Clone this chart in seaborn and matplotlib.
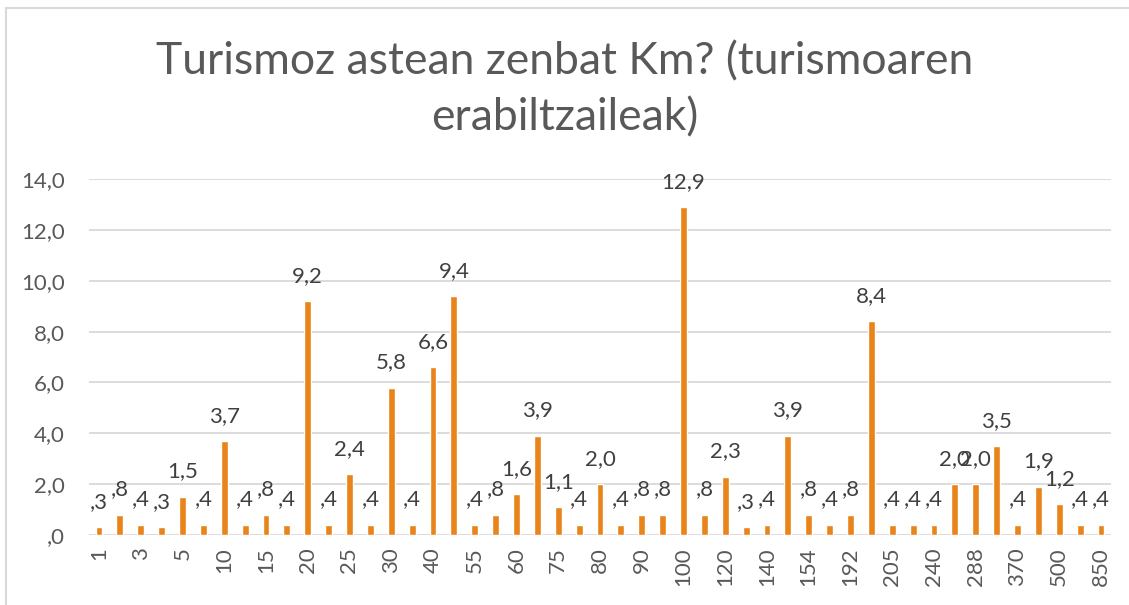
import matplotlib
matplotlib.use("Agg")
import matplotlib.pyplot as plt
from matplotlib.lines import Line2D
import pandas as pd
import seaborn as sns

# Km per week (categories; odd ones have hidden tick labels in the original)
km_categories = ["1", "2", "3", "4", "5", "7", "10", "12", "15", "17",
                 "20", "22", "25", "28", "30", "35", "40", "50", "55", "56",
                 "60", "70", "75", "78", "80", "85", "90", "95", "100", "110",
                 "120", "130", "140", "150", "154", "160", "192", "200", "205", "210",
                 "240", "250", "288", "300", "370", "400", "500", "600", "850"]
percent_values = [0.3, 0.8, 0.4, 0.3, 1.5, 0.4, 3.7, 0.4, 0.8, 0.4,
                  9.2, 0.4, 2.4, 0.4, 5.8, 0.4, 6.6, 9.4, 0.4, 0.8,
                  1.6, 3.9, 1.1, 0.4, 2.0, 0.4, 0.8, 0.8, 12.9, 0.8,
                  2.3, 0.3, 0.4, 3.9, 0.8, 0.4, 0.8, 8.4, 0.4, 0.4,
                  0.4, 2.0, 2.0, 3.5, 0.4, 1.9, 1.2, 0.4, 0.4]
y_ticks = [0, 2, 4, 6, 8, 10, 12, 14]

title = "Turismoz astean zenbat Km? (turismoaren\nerabiltzaileak)"


def excel_fmt(v):
    # Excel style "#,0" -> ",3" for values below one
    s = f"{v:.1f}".replace(".", ",")
    if s.startswith("0,"):
        s = s[1:]
    return s


sns.set_theme(style="white")
plt.rcParams["font.family"] = ["Lato", "DejaVu Sans"]

text_color = "#595959"
bar_color = "#E8841A"

df = pd.DataFrame({"km": km_categories, "pct": percent_values})

fig = plt.figure(figsize=(11.29, 6.05), dpi=100)
ax = fig.add_axes([0.0784, 0.1157, 0.906, 0.5883])

sns.barplot(data=df, x="km", y="pct", color=bar_color, saturation=1,
            width=0.33, ax=ax, zorder=3)

ax.set_ylim(0, 14)
ax.set_xlim(-0.5, len(km_categories) - 0.5)
ax.set_yticks(y_ticks)
ax.set_yticklabels([excel_fmt(t) for t in y_ticks], fontsize=16, color=text_color)
ax.grid(axis="y", color="#D9D9D9", linewidth=1.3, zorder=0)
ax.set_axisbelow(True)

ax.set_xticks(range(0, len(km_categories), 2))
ax.set_xticklabels(km_categories[::2], rotation=90, fontsize=16,
                   color=text_color, va="top")
ax.tick_params(axis="x", length=0, pad=9)
ax.tick_params(axis="y", length=0, pad=17)
ax.set_xlabel("")
ax.set_ylabel("")
for sp in ax.spines.values():
    sp.set_visible(False)

for cont in ax.containers:
    ax.bar_label(cont, labels=[excel_fmt(v) for v in cont.datavalues],
                 padding=11, fontsize=16, color="#404040")

fig.text(0.5, 0.851, title, ha="center", va="center", fontsize=32,
         color=text_color, linespacing=1.45)

# chart frame (only top and left edges visible in the crop)
fig.add_artist(Line2D([6 / 1129, 6 / 1129], [0, 1 - 8 / 605],
                      transform=fig.transFigure, color="#D9D9D9", linewidth=1.5))
fig.add_artist(Line2D([6 / 1129, 1], [1 - 8 / 605, 1 - 8 / 605],
                      transform=fig.transFigure, color="#D9D9D9", linewidth=1.5))

fig.savefig("out.png", dpi=100, facecolor="white")
